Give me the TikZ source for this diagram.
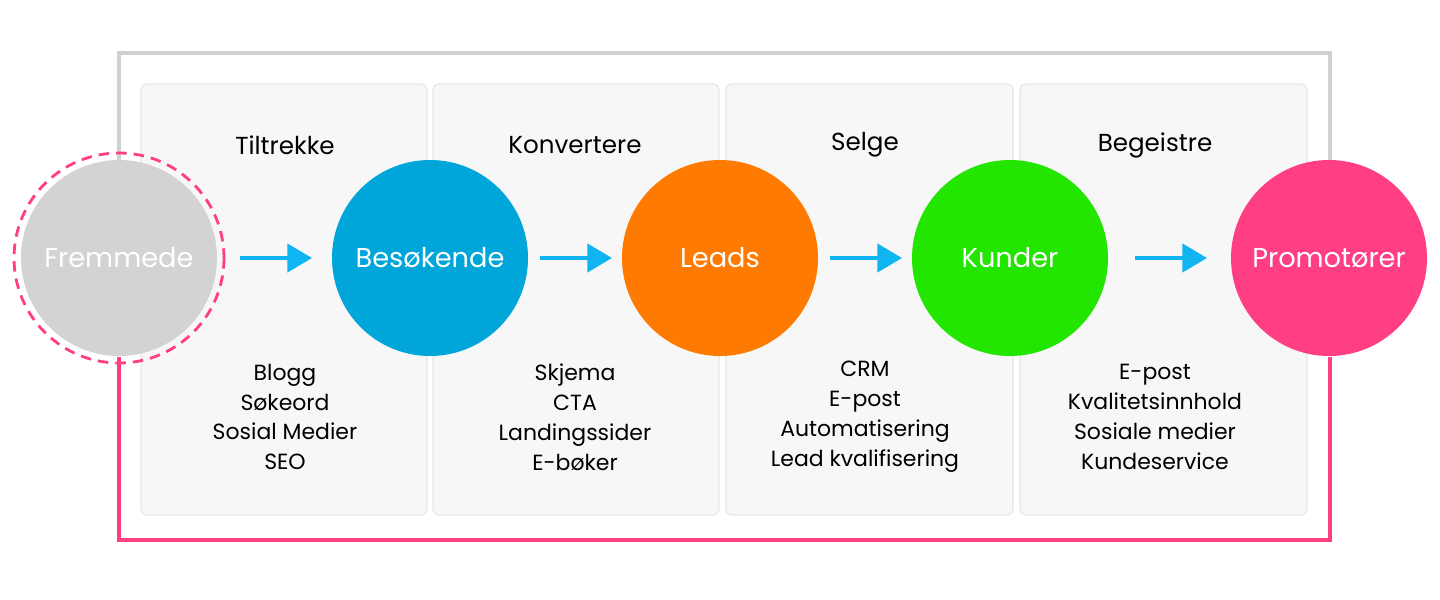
\documentclass[tikz,border=0pt]{standalone}
\usepackage{fontspec}
\setmainfont{Poppins}
\usetikzlibrary{positioning,arrows.meta}
\definecolor{frameGray}{HTML}{D0D0D0}
\definecolor{panelFill}{HTML}{F7F7F7}
\definecolor{panelLine}{HTML}{E6E6E6}
\definecolor{cGray}{HTML}{D3D3D3}
\definecolor{cBlue}{HTML}{00A6DA}
\definecolor{cOrange}{HTML}{FF7A00}
\definecolor{cGreen}{HTML}{22E600}
\definecolor{cPink}{HTML}{FF3E84}
\definecolor{cArrow}{HTML}{10B4F0}
\tikzset{
  stage/.style={circle, minimum size=196*0.02cm, inner sep=0pt, text=white, font=\fontsize{15.5}{18}\selectfont},
  panel/.style={fill=panelFill, draw=panelLine, line width=0.6pt, rounded corners=3pt},
  title/.style={font=\fontsize{14}{17}\selectfont},
  items/.style={align=center, font=\fontsize{12.5}{17}\selectfont},
  flow/.style={cArrow, line width=2.2pt, -{Triangle[length=14pt,width=16pt]}},
}
\begin{document}
\begin{tikzpicture}[x=0.02cm,y=-0.02cm]
  \useasboundingbox (0,0) rectangle (1440,599);
  % panels
  \foreach \xa/\xb in {141/427,433/719,726/1013,1020/1307}
    \draw[panel] (\xa,84) rectangle (\xb,515);
  % frame lines
  \draw[frameGray, line width=1.8pt] (119,160) -- (119,53) -- (1330,53) -- (1330,160);
  \draw[cPink, line width=1.8pt] (119,357) -- (119,540) -- (1330,540) -- (1330,357);
  % circles
  \draw[cPink, line width=1.6pt, dash pattern=on 6pt off 4pt] (119,258) circle (105);
  \node[stage, fill=cGray] (frem) at (119,258) {Fremmede};
  \node[stage, fill=cBlue] (besok) at (430,258) {Besøkende};
  \node[stage, fill=cOrange] (leads) at (720,258) {Leads};
  \node[stage, fill=cGreen] (kund) at (1010,258) {Kunder};
  \node[stage, fill=cPink] (promo) at (1329,258) {Promotører};
  % arrows
  \coordinate (a1) at (240,258); \coordinate (b1) at (312,258);
  \coordinate (a2) at (540,258); \coordinate (b2) at (612,258);
  \coordinate (a3) at (830,258); \coordinate (b3) at (902,258);
  \coordinate (a4) at (1135,258); \coordinate (b4) at (1207,258);
  \foreach \i in {1,...,4}
    \draw[flow] (a\i) -- (b\i);
  % titles
  \node[title] (t1) at (285,145) {Tiltrekke};
  \node[title] (t2) at (575,145) {Konvertere};
  \node[title] (t3) at (865,145) {Selge};
  \node[title] (t4) at (1155,145) {Begeistre};
  % lists
  \node[items] (l1) at (285,417) {Blogg\\Søkeord\\Sosial Medier\\SEO};
  \node[items] (l2) at (575,417) {Skjema\\CTA\\Landingssider\\E-bøker};
  \node[items] (l3) at (865,417) {CRM\\E-post\\Automatisering\\Lead kvalifisering};
  \node[items] (l4) at (1155,417) {E-post\\Kvalitetsinnhold\\Sosiale medier\\Kundeservice};
\end{tikzpicture}
\end{document}
